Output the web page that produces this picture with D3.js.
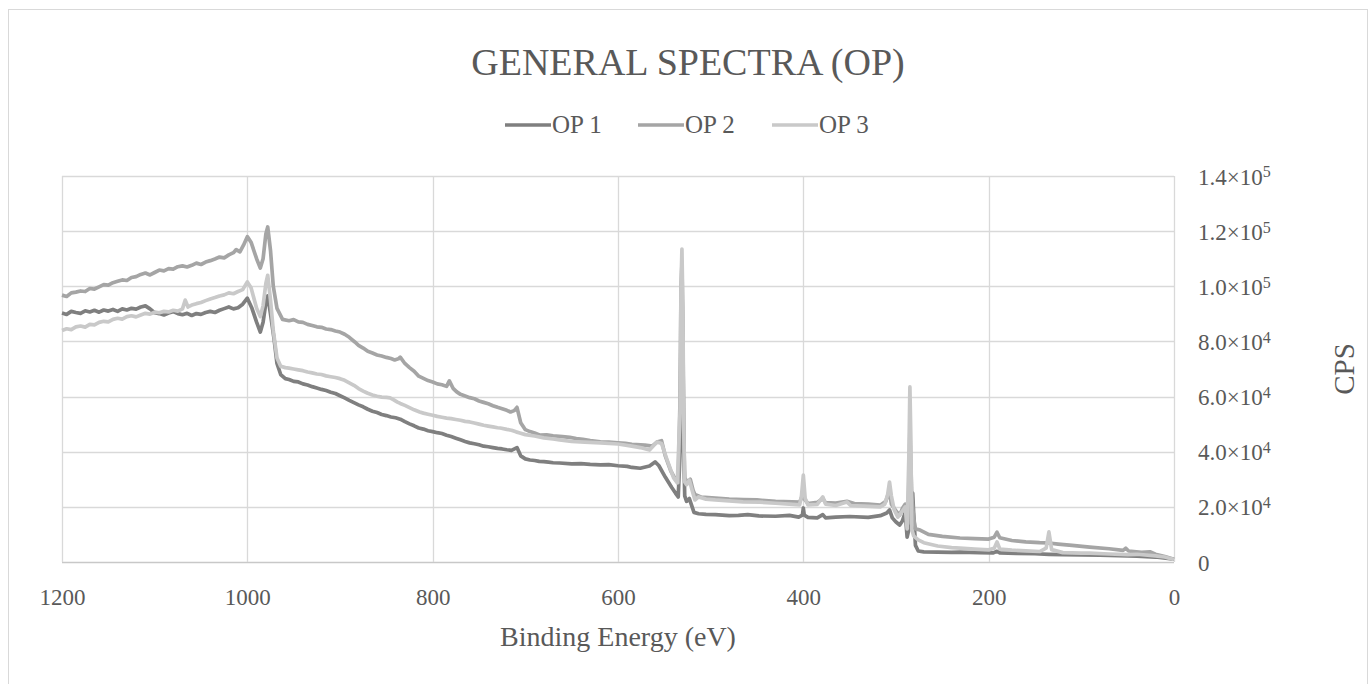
<!DOCTYPE html>
<html>
<head>
<meta charset="utf-8">
<script src="https://cdn.jsdelivr.net/npm/d3@7"></script>
<style>
  body { margin: 0; background: #fff; }
  text { font-family: "Liberation Serif", "DejaVu Serif", serif; fill: #595959; }
</style>
</head>
<body>
<svg width="1371" height="684"></svg>
<script>
// binding energy (eV), counts per second
var op1 = [[1200,90300],[1195,89800],[1190,90900],[1185,90500],[1180,90200],[1175,91100],[1170,90700],[1165,91300],
  [1160,90600],[1155,91400],[1150,91000],[1145,91600],[1140,90900],[1135,91800],[1130,91400],[1125,92000],[1120,91700],
  [1115,92500],[1110,92900],[1105,91800],[1100,90400],[1095,90100],[1090,89600],[1085,90300],[1080,90800],[1075,90100],
  [1070,89700],[1065,90200],[1060,89400],[1055,90100],[1050,89800],[1045,90500],[1040,90900],[1035,90500],[1030,91300],
  [1025,91900],[1020,92500],[1015,91800],[1010,92200],[1005,93500],[1000,95700],[995,92000],[990,87000],[986,83400],
  [983,87000],[980,94000],[978,96500],[975,90000],[971,80500],[968,72000],[964,68000],[959,66500],[955,66200],[950,65500],
  [945,65300],[940,64600],[935,64200],[930,63600],[925,63100],[920,62600],[915,62200],[910,61600],[905,61100],[900,60300],
  [895,59500],[890,58600],[885,57800],[880,57000],[875,56300],[870,55400],[865,54700],[860,54200],[855,53500],[850,53100],
  [845,52600],[840,52300],[835,51800],[830,50900],[825,50100],[820,49400],[815,48600],[810,48200],[805,47600],[800,47300],
  [795,46900],[790,46600],[785,46000],[780,45500],[775,44900],[770,44300],[765,43700],[760,43200],[755,42900],[750,42500],
  [745,42000],[740,41800],[735,41500],[730,41200],[725,41000],[720,40700],[715,40500],[709,41500],[705,38500],[700,37400],
  [695,37000],[690,36800],[685,36500],[680,36400],[675,36200],[670,36000],[663,35900],[650,35600],[640,35700],[630,35400],
  [619,35200],[610,35300],[600,34900],[590,34700],[585,34300],[576,34000],[566,34800],[560,36300],[556,35000],[549,30800],
  [542,27000],[538,25000],[535,23600],[533,40000],[532,85000],[531,100000],[530,80000],[529,40000],[528,24000],[526,22000],
  [523,23000],[521,21000],[518,18000],[513,17500],[505,17300],[495,17200],[480,16800],[470,16900],[460,17200],[448,16700],
  [430,16600],[415,16900],[405,16300],[401,17000],[400,19600],[399,17000],[395,16200],[385,16000],[379,17200],[376,16000],
  [365,16300],[350,16500],[330,16200],[317,16800],[310,17800],[307,18900],[304,16000],[300,14500],[296,13400],[293,15000],
  [290,18000],[288,9000],[286,12000],[284,18000],[282,25000],[281,18000],[279,6000],[276,4000],[270,3700],[255,3600],
  [240,3500],[231,3600],[210,3400],[195,3300],[191,3900],[188,3300],[170,3100],[150,3000],[135,2800],[120,2700],[100,2600],
  [80,2500],[60,2300],[40,2100],[20,1800],[0,1000]];

var op2 = [[1200,96800],[1195,96300],[1190,97600],[1185,97900],[1180,98300],[1175,98100],[1170,99200],[1165,99000],
  [1160,99800],[1155,100600],[1150,100400],[1145,101300],[1140,101800],[1135,102300],[1130,102100],[1125,103200],
  [1120,103500],[1115,104300],[1110,104800],[1105,104100],[1100,105000],[1095,105900],[1090,105600],[1085,106400],
  [1080,106200],[1075,107100],[1070,107400],[1065,107000],[1060,107600],[1055,108400],[1050,107900],[1045,108800],
  [1040,109300],[1035,109900],[1030,110600],[1025,110300],[1020,111400],[1015,112200],[1012,113300],[1008,112500],
  [1004,115000],[1000,118000],[996,116000],[990,110000],[986,106600],[983,110000],[980,119000],[978,121500],[975,113000],
  [972,100000],[968,92000],[962,88000],[955,87500],[950,87900],[945,87100],[940,86900],[935,86200],[930,85800],[925,85300],
  [920,85100],[915,84500],[910,84300],[905,83800],[900,83400],[895,82600],[890,81500],[884,79800],[880,78600],[875,77600],
  [870,76400],[865,75800],[860,75100],[855,74700],[850,74200],[845,73800],[841,73300],[837,73700],[835,74300],[830,72000],
  [825,70500],[820,69200],[815,67400],[810,66600],[805,65800],[800,65300],[795,64600],[790,64300],[785,63700],[782,65700],
  [778,63000],[774,61700],[770,60800],[765,60200],[760,59600],[755,59200],[750,58400],[745,57900],[740,57400],[735,56700],
  [730,56100],[725,55600],[720,55000],[716,54400],[712,54900],[709,56100],[705,50500],[700,48000],[695,47300],[690,46800],
  [684,46000],[677,46100],[670,45800],[660,45500],[652,45200],[645,44800],[638,44500],[630,44000],[619,43600],[610,43500],
  [600,43200],[592,43000],[585,42700],[571,42400],[563,42000],[558,43500],[553,44000],[549,38500],[543,33000],[538,30000],
  [535,28800],[533,60000],[532,100000],[531,108000],[530,85000],[529,45000],[528,30500],[525,29000],[522,30000],[519,26000],
  [517,24500],[510,23500],[495,23200],[480,22800],[465,22600],[450,22500],[430,22000],[412,21800],[404,21700],[401,24000],
  [400,27000],[399,23000],[395,21200],[385,21600],[379,23000],[376,21500],[365,21400],[353,22000],[345,21200],[330,21000],
  [317,20600],[311,22000],[307,26000],[305,21000],[300,18500],[296,17000],[293,19500],[290,21000],[287,14000],[285,48000],
  [283,24000],[281,16000],[279,12000],[274,11600],[265,10000],[250,9300],[231,8700],[215,8500],[200,8300],[194,9000],
  [191,10800],[188,8800],[175,7800],[160,7300],[145,7000],[135,6900],[125,6500],[110,6000],[91,5400],[70,4800],[55,4200],
  [52,5000],[49,4000],[35,3500],[26,3700],[20,2800],[10,2000],[0,1000]];

var op3 = [[1200,84000],[1195,84600],[1190,84300],[1185,85300],[1180,85600],[1175,85200],[1170,86200],[1165,86000],
  [1160,86900],[1155,87300],[1150,87100],[1145,88000],[1140,88400],[1135,88100],[1130,89000],[1125,89300],[1120,88900],
  [1115,89600],[1110,90200],[1105,89900],[1100,90600],[1095,90400],[1090,90900],[1085,90700],[1080,91300],[1075,91000],
  [1070,91800],[1067,95000],[1064,92500],[1060,93200],[1055,93700],[1050,94100],[1045,94800],[1040,95400],[1035,95900],
  [1030,96500],[1025,96900],[1020,97600],[1015,97300],[1010,98100],[1005,98800],[1000,101600],[996,99500],[990,92000],
  [986,89000],[983,93000],[980,101000],[978,104000],[975,95000],[972,84000],[968,74000],[964,71000],[959,70500],[955,70300],
  [950,70000],[945,69700],[940,69400],[935,68900],[930,68600],[925,68200],[920,68000],[915,67500],[910,67200],[905,66900],
  [900,66500],[895,65900],[890,65000],[885,64100],[880,62900],[875,62000],[870,61200],[865,60600],[860,60100],[855,59800],
  [850,59700],[846,59500],[842,58800],[838,58000],[835,57500],[830,56800],[825,56000],[820,55200],[814,54400],[810,54000],
  [805,53600],[800,53200],[795,52800],[790,52500],[785,52200],[780,52000],[775,51700],[770,51400],[765,51000],[760,50800],
  [755,50400],[750,50000],[745,49600],[740,49300],[735,49000],[730,48700],[727,48600],[720,48100],[715,47800],[710,47200],
  [706,46800],[700,46200],[690,45700],[680,45000],[670,44600],[663,44300],[650,43700],[636,43500],[619,43200],[600,42800],
  [585,42000],[576,41500],[566,40600],[558,43500],[553,43000],[547,37000],[540,30500],[536,28700],[533,55000],[532,100000],
  [531,113500],[530,92000],[529,48000],[528,29000],[526,28000],[523,29700],[520,26000],[517,22500],[513,23600],[505,22800],
  [495,22500],[480,22200],[465,21800],[447,21700],[430,21300],[415,21000],[404,20700],[402,24000],[400,31500],[398,23000],
  [395,20700],[385,20900],[379,23600],[376,21000],[365,20500],[353,21800],[349,20500],[335,20300],[317,20000],[312,21000],
  [309,24500],[307,29000],[305,24000],[302,19000],[298,16300],[293,18500],[290,20000],[288,12000],[286,40000],[285,63500],
  [284,45000],[283,12000],[281,9500],[276,8000],[270,7000],[255,5800],[240,5200],[231,5000],[215,4700],[200,4400],
  [194,5000],[191,7300],[188,4700],[175,4300],[160,4000],[145,3800],[138,5000],[135,10900],[132,4500],[120,3400],
  [100,3200],[91,3200],[70,2900],[50,2700],[40,2800],[20,2200],[10,1800],[0,900]];

var seriesNames = ["OP 1", "OP 2", "OP 3"];
var seriesColors = ["#7f7f7f", "#a5a5a5", "#c9c9c9"];
var xTicks = [1200, 1000, 800, 600, 400, 200, 0];
var yTicks = [0, 20000, 40000, 60000, 80000, 100000, 120000, 140000];
var yTickLabels = ["0", "2.0×10|4", "4.0×10|4", "6.0×10|4", "8.0×10|4", "1.0×10|5", "1.2×10|5", "1.4×10|5"];

var svg = d3.select("svg");
var x = d3.scaleLinear().domain([1200, 0]).range([62, 1174]);
var y = d3.scaleLinear().domain([0, 140000]).range([562, 176]);

// chart border
svg.append("rect").attr("x", 8.5).attr("y", 9.5).attr("width", 1359).attr("height", 700)
  .attr("fill", "none").attr("stroke", "#d9d9d9");

// grid
svg.append("g").selectAll("line").data(yTicks).enter().append("line")
  .attr("x1", 62).attr("x2", 1174)
  .attr("y1", function (d) { return Math.round(y(d)) + 0.5; })
  .attr("y2", function (d) { return Math.round(y(d)) + 0.5; })
  .attr("stroke", function (d) { return d == 0 ? "#c8c8c8" : "#d9d9d9"; }).attr("stroke-width", 1.3);
svg.append("g").selectAll("line").data(xTicks).enter().append("line")
  .attr("y1", 176).attr("y2", 562)
  .attr("x1", function (d) { return Math.round(x(d)) + 0.5; })
  .attr("x2", function (d) { return Math.round(x(d)) + 0.5; })
  .attr("stroke", "#d9d9d9").attr("stroke-width", 1.3);

// x axis
var xAxis = svg.append("g").attr("transform", "translate(0,562)")
  .call(d3.axisBottom(x).tickValues(xTicks).tickSize(0).tickPadding(0).tickFormat(d3.format("d")));
xAxis.select(".domain").remove();
xAxis.selectAll("text").attr("y", 43).attr("dy", null)
  .style("font-family", "Liberation Serif").style("font-size", "23px").attr("fill", "#595959");

// y axis on the right
var yAxis = svg.append("g").attr("transform", "translate(1174,0)")
  .call(d3.axisRight(y).tickValues(yTicks).tickSize(0).tickPadding(24).tickFormat(""));
yAxis.select(".domain").remove();
yAxis.selectAll(".tick text").each(function (d, i) {
  var t = d3.select(this).attr("dy", "0.35em")
    .style("font-family", "Liberation Serif").style("font-size", "23px").attr("fill", "#595959");
  var parts = yTickLabels[i].split("|");
  t.append("tspan").text(parts[0]);
  if (parts.length > 1) {
    t.append("tspan").attr("dy", "-0.45em").style("font-size", "16px").text(parts[1]);
  }
});

// lines
var line = d3.line().x(function (d) { return x(d[0]); }).y(function (d) { return y(d[1]); });
[op1, op2, op3].forEach(function (s, i) {
  svg.append("path").datum(s).attr("d", line)
    .attr("fill", "none").attr("stroke", seriesColors[i])
    .attr("stroke-width", 3.7).attr("stroke-linejoin", "round");
});

// title
svg.append("text").attr("x", 688).attr("y", 75).attr("text-anchor", "middle")
  .style("font-size", "38px").text("GENERAL SPECTRA (OP)");

// legend
var legendX = [505, 638, 772];
seriesNames.forEach(function (n, i) {
  svg.append("line").attr("x1", legendX[i]).attr("x2", legendX[i] + 46)
    .attr("y1", 125).attr("y2", 125).attr("stroke", seriesColors[i]).attr("stroke-width", 3.7);
  svg.append("text").attr("x", legendX[i] + 47).attr("y", 133)
    .style("font-size", "25px").text(n);
});

// axis titles
svg.append("text").attr("x", 618).attr("y", 646).attr("text-anchor", "middle")
  .style("font-size", "28px").text("Binding Energy (eV)");
svg.append("text").attr("transform", "translate(1354,369) rotate(-90)")
  .attr("text-anchor", "middle").style("font-size", "29px").text("CPS");
</script>
</body>
</html>
